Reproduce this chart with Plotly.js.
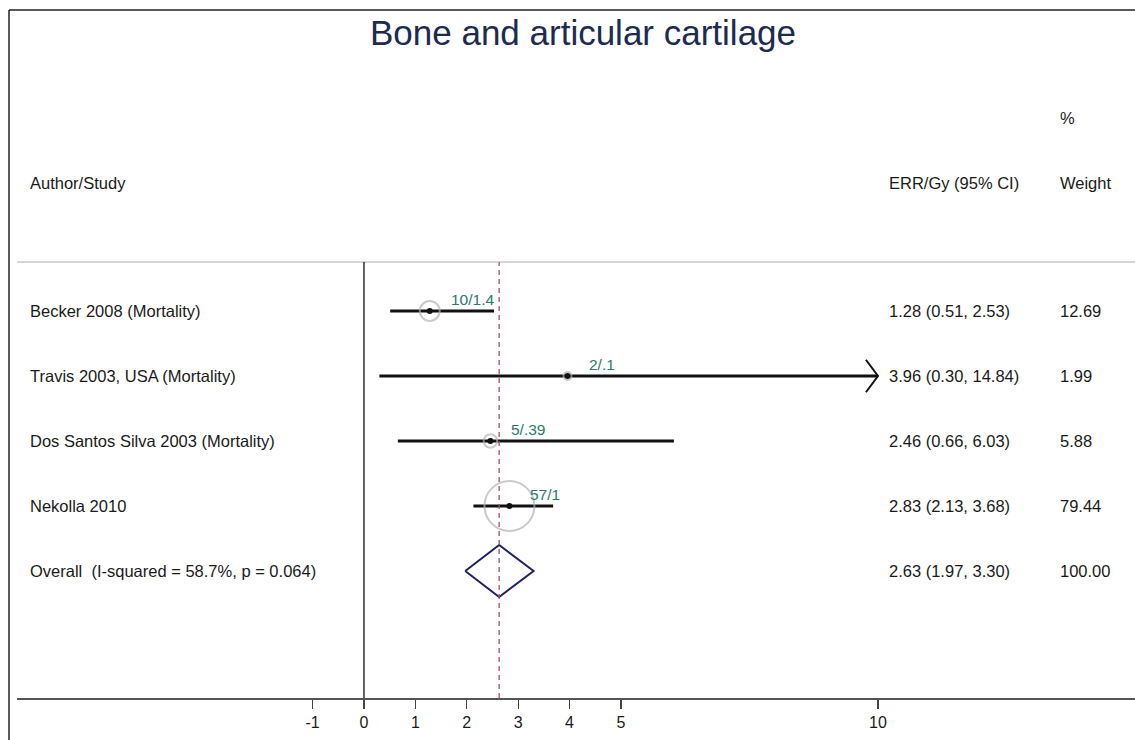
<!DOCTYPE html>
<html>
<head>
<meta charset="utf-8">
<script src="https://cdn.plot.ly/plotly-3.0.1.min.js"></script>
<style>
  html, body { margin: 0; padding: 0; background: #fff; }
  #chart { width: 1135px; height: 740px; }
</style>
</head>
<body>
<div id="chart"></div>
<script>
// Study rows, top to bottom
const studies = [
  'Becker 2008 (Mortality)',
  'Travis 2003, USA (Mortality)',
  'Dos Santos Silva 2003 (Mortality)',
  'Nekolla 2010'
];
const estimates = [1.28, 3.96, 2.46, 2.83];
const lowerCI   = [0.51, 0.30, 0.66, 2.13];
const upperCI   = [2.53, 14.84, 6.03, 3.68];
const weights   = [12.69, 1.99, 5.88, 79.44];
const caseLabels = ['10/1.4', '2/.1', '5/.39', '57/1'];

// Pooled estimate
const overallLabel = 'Overall  (I-squared = 58.7%, p = 0.064)';
const overallEst = 2.63;
const overallLo = 1.97;
const overallHi = 3.30;
const overallWeight = 100.00;

const tickVals = [-1, 0, 1, 2, 3, 4, 5, 10];
const axisMax = 10;  // CIs beyond this end in an arrow

const rows = studies.map((_, i) => i + 1);
const overallRow = studies.length + 1;

const FONT = 'Liberation Sans, Arial, Helvetica, sans-serif';
const TXT = '#1a1a1a';
const TEAL = '#2b7a6c';
const NAVY = '#1f2160';
const TITLE_NAVY = '#1c2b50';

const traces = [];

// Confidence interval bars
studies.forEach((s, i) => {
  const hi = Math.min(upperCI[i], axisMax);
  traces.push({
    x: [lowerCI[i], hi], y: [rows[i], rows[i]],
    mode: 'lines', line: {color: '#111', width: 3},
    hoverinfo: 'skip', showlegend: false, cliponaxis: false
  });
  if (upperCI[i] > axisMax) {
    // open arrowhead marking a truncated interval
    traces.push({
      x: [axisMax - 0.235, axisMax, axisMax - 0.235],
      y: [rows[i] - 0.25, rows[i], rows[i] + 0.25],
      mode: 'lines', line: {color: '#111', width: 2},
      hoverinfo: 'skip', showlegend: false
    });
  }
});

// Weight boxes (area proportional to weight)
traces.push({
  x: estimates, y: rows, mode: 'markers',
  marker: {
    symbol: 'circle-open',
    size: weights.map(w => 5.6 * Math.sqrt(w)),
    color: '#b4b4b4', line: {width: 2, color: '#b4b4b4'}
  },
  hoverinfo: 'skip', showlegend: false
});

// Point estimates
traces.push({
  x: estimates, y: rows, mode: 'markers',
  marker: {symbol: 'circle', size: 6, color: '#111'},
  hoverinfo: 'skip', showlegend: false
});

// Overall diamond
traces.push({
  x: [overallLo, overallEst, overallHi, overallEst, overallLo],
  y: [overallRow, overallRow - 0.4, overallRow, overallRow + 0.4, overallRow],
  mode: 'lines', line: {color: NAVY, width: 2},
  hoverinfo: 'skip', showlegend: false
});

// Layout geometry
const W = 1135, H = 740;
const plotLeft = 17, plotTop = 262, plotBottom = 698;
const xRange = [-6.75, 15.0];
const yRange = [6.954, 0.246];
const plotW = W - plotLeft, plotH = plotBottom - plotTop;
const paperX = px => (px - plotLeft) / plotW;
const paperY = py => (plotBottom - py) / plotH;

const colAuthor = -6.54, colErr = 10.17, colWeight = 13.50;
const TEXT_SIZE = 16.5;

const annotations = [];
const addText = (x, y, text, opts = {}) => annotations.push(Object.assign({
  x, y, text, xref: 'x', yref: 'y', xanchor: 'left', yanchor: 'middle',
  showarrow: false, font: {family: FONT, size: TEXT_SIZE, color: TXT}
}, opts));

// Column headers
addText(colAuthor, paperY(183), 'Author/Study', {yref: 'paper'});
addText(colErr, paperY(183), 'ERR/Gy (95% CI)', {yref: 'paper'});
addText(colWeight, paperY(183), 'Weight', {yref: 'paper'});
addText(colWeight, paperY(118), '%', {yref: 'paper'});

const fmtCI = (e, l, h) => `${e.toFixed(2)} (${l.toFixed(2)}, ${h.toFixed(2)})`;

studies.forEach((s, i) => {
  addText(colAuthor, rows[i], s);
  addText(colErr, rows[i], fmtCI(estimates[i], lowerCI[i], upperCI[i]));
  addText(colWeight, rows[i], weights[i].toFixed(2));
  addText(estimates[i], rows[i], caseLabels[i], {
    xshift: 19, yshift: 12, font: {family: FONT, size: 15.5, color: TEAL}
  });
});
addText(colAuthor, overallRow, overallLabel);
addText(colErr, overallRow, fmtCI(overallEst, overallLo, overallHi));
addText(colWeight, overallRow, overallWeight.toFixed(2));

const shapes = [
  // outer frame (left and top)
  {type: 'line', xref: 'paper', yref: 'paper', x0: paperX(9), x1: paperX(9),
   y0: paperY(10), y1: paperY(H), line: {color: '#222', width: 1.5}},
  {type: 'line', xref: 'paper', yref: 'paper', x0: paperX(9), x1: 1,
   y0: paperY(10), y1: paperY(10), line: {color: '#222', width: 1.5}},
  // header separator
  {type: 'line', xref: 'paper', yref: 'paper', x0: 0, x1: 1, y0: 1, y1: 1,
   line: {color: '#c8c8c8', width: 1.5}},
  // null line
  {type: 'line', xref: 'x', yref: 'paper', x0: 0, x1: 0, y0: 0, y1: 1,
   line: {color: '#111', width: 1.3}},
  // pooled estimate reference
  {type: 'line', xref: 'x', yref: 'paper', x0: overallEst, x1: overallEst, y0: 0, y1: 1,
   line: {color: '#a5505e', width: 1.3, dash: '5px,4px'}}
];

const layout = {
  width: W, height: H,
  margin: {l: plotLeft, r: 0, t: plotTop, b: H - plotBottom, pad: 0},
  paper_bgcolor: '#fff', plot_bgcolor: '#fff',
  title: {
    text: 'Bone and articular cartilage',
    font: {family: FONT, size: 35, color: TITLE_NAVY},
    x: 583 / W, xref: 'container', xanchor: 'center',
    y: 1 - 33 / H, yref: 'container', yanchor: 'middle'
  },
  xaxis: {
    range: xRange, tickvals: tickVals, ticktext: tickVals.map(String),
    showgrid: false, zeroline: false,
    showline: true, linecolor: '#555', linewidth: 2,
    ticks: 'outside', ticklen: 9, tickwidth: 1.3, tickcolor: '#444',
    tickfont: {family: FONT, size: 16, color: TXT}, fixedrange: true
  },
  yaxis: {
    range: yRange, showgrid: false, zeroline: false, showline: false,
    showticklabels: false, ticks: '', fixedrange: true
  },
  shapes, annotations
};

Plotly.newPlot('chart', traces, layout, {staticPlot: true});
</script>
</body>
</html>
